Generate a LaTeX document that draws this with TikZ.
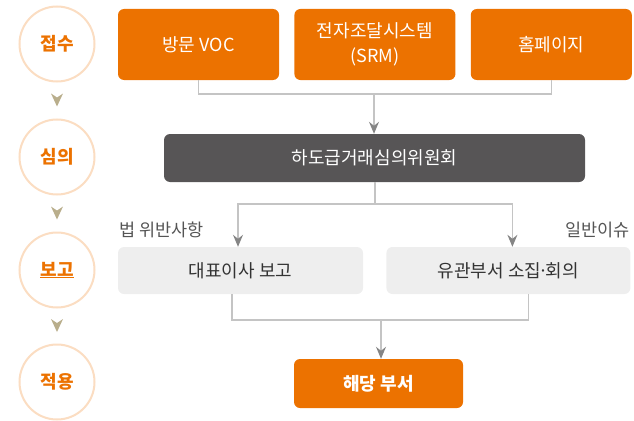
\documentclass[tikz,border=0pt]{standalone}
\usepackage{fontspec}
\setmainfont{Noto Sans CJK KR}
\usetikzlibrary{arrows.meta,positioning,calc}
\definecolor{Orange}{HTML}{EC7200}
\definecolor{Ring}{HTML}{FBDDC2}
\definecolor{Charcoal}{HTML}{575556}
\definecolor{Pale}{HTML}{EEEEEE}
\definecolor{Wire}{HTML}{C4C4C4}
\definecolor{Tip}{HTML}{858585}
\definecolor{Khaki}{HTML}{B9AE8C}
\definecolor{Ink}{HTML}{333333}
\definecolor{Muted}{HTML}{555555}
\tikzset{
 stage/.style={circle, draw=Ring, line width=2pt, fill=white, minimum size=75pt, inner sep=0pt, font=\fontsize{18}{20}\selectfont\bfseries, text=Orange},
 block/.style={rounded corners=6pt, minimum height=47pt, align=center, inner sep=4pt, font=\fontsize{18}{25}\selectfont},
 orangeblock/.style={block, fill=Orange, text=white},
 darkblock/.style={block, fill=Charcoal, text=white},
 greyblock/.style={block, fill=Pale, text=Ink},
 wire/.style={draw=Wire, line width=1.3pt},
 arrow/.style={wire, -{Stealth[length=12pt,width=10pt,inset=4pt,color=Tip]}},
 note/.style={font=\fontsize{17.5}{20}\selectfont, text=Muted}
}

\begin{document}
\begin{tikzpicture}[x=1pt,y=-1pt]
\useasboundingbox (0,0) rectangle (634,420);

\node[stage] (s1) at (57,44) {접수};
\node[stage] (s2) at (57,157) {심의};
\node[stage] (s3) at (57,270) {\underline{보고}};
\node[stage] (s4) at (57,382) {적용};
\foreach \a/\b in {s1/s2,s2/s3,s3/s4}
 \fill[Khaki] ($(\a)!0.5!(\b)$) ++(-6,-7) -- ++(6,4) -- ++(6,-4) -- ++(-6,13) -- cycle;

\node[orangeblock, minimum width=161pt, minimum height=71pt] (visit) at (198.5,44.5) {방문 VOC};
\node[orangeblock, minimum width=161pt, minimum height=71pt, right=15pt of visit] (srm) {전자조달시스템\\(SRM)};
\node[orangeblock, minimum width=161pt, minimum height=71pt, right=15pt of srm] (home) {홈페이지};

\node[darkblock, minimum width=421pt, minimum height=48pt] (council) at (374.5,158) {하도급거래심의위원회};

\node[greyblock, minimum width=245pt] (ceo) at (240.5,270.5) {대표이사 보고};
\node[greyblock, minimum width=244pt, right=23pt of ceo] (dept) {유관부서 소집\kern-0.15em·\kern-0.15em회의};
\node[note, anchor=west] (lawnote) at (116,230) {법 위반사항};
\node[note, anchor=east] (issuenote) at (633,230) {일반이슈};

\node[orangeblock, font=\fontsize{18}{20}\selectfont\bfseries, minimum width=169pt, minimum height=49pt] (target) at (378.5,383.5) {해당 부서};

\coordinate (merge) at (374,94);
\draw[wire] (visit.south) |- (merge) -| (home.south);
\draw[arrow] (merge) -- (merge |- council.north);

\coordinate (split) at (375,204);
\draw[wire] (council.south -| split) -- (split);
\draw[arrow] (split) -| ($(ceo.north)+(-2.5,0)$);
\draw[arrow] (split) -| ($(dept.north)+(4,0)$);

\coordinate (join) at (381,320);
\draw[wire] ($(ceo.south)+(-8.5,0)$) |- (join) -| ($(dept.south)+(20,0)$);
\draw[arrow] (join) -- (join |- target.north);
\end{tikzpicture}
\end{document}
